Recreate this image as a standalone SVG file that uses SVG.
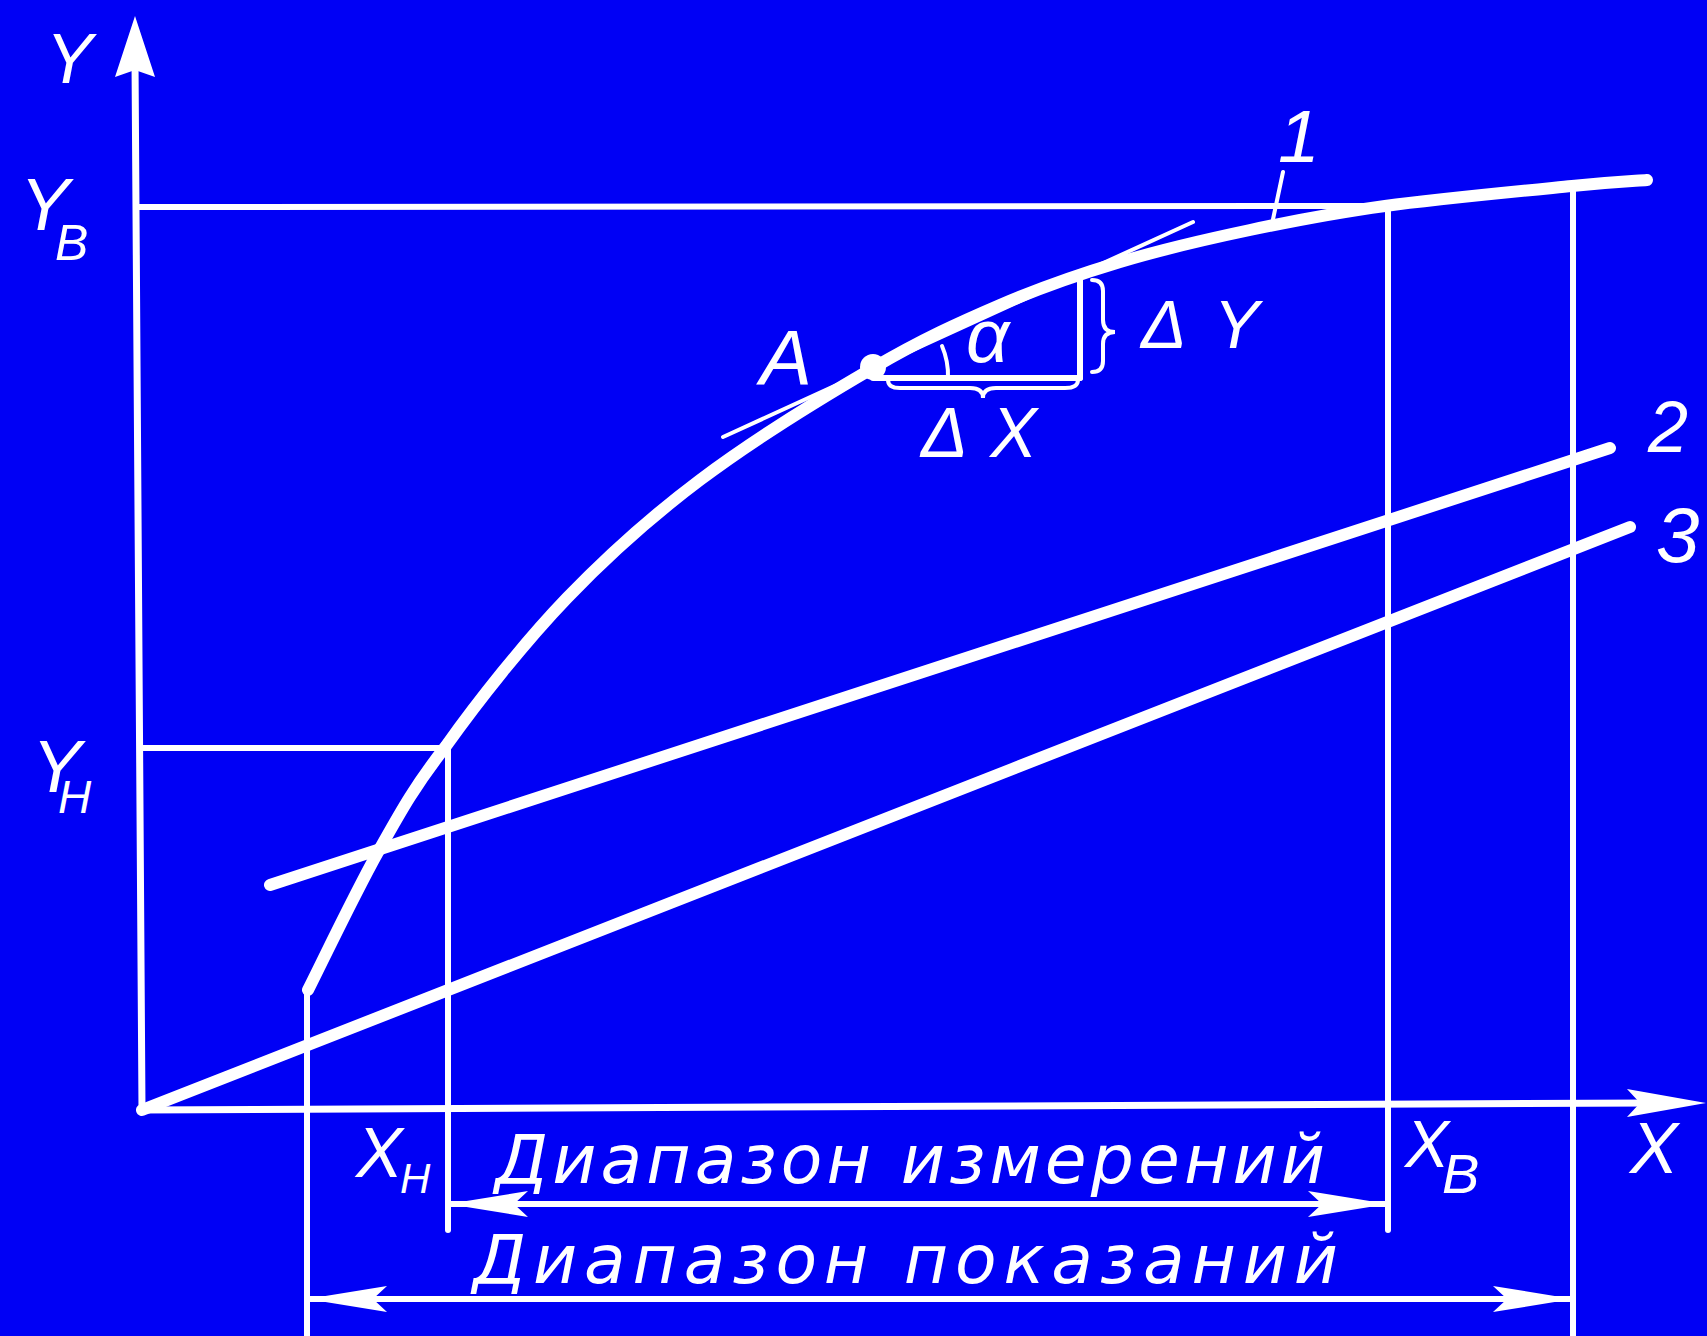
<svg xmlns="http://www.w3.org/2000/svg" width="1707" height="1336" viewBox="0 0 1707 1336">
<style>
.thin{stroke:#fff;stroke-width:6;fill:none;stroke-linecap:round}
.hair{stroke:#fff;stroke-width:4;fill:none;stroke-linecap:round}
.thick{stroke:#fff;stroke-width:12;fill:none;stroke-linecap:round;stroke-linejoin:round}
.lbl{fill:#fff;font-family:"Liberation Sans",Arial,sans-serif;font-style:italic}
.rng{fill:#fff;font-family:"DejaVu Sans","Liberation Sans",sans-serif;font-style:oblique}
</style>
<defs>
<marker id="ah" viewBox="0 0 80 28" refX="80" refY="14" markerWidth="80" markerHeight="28" markerUnits="userSpaceOnUse" orient="auto-start-reverse">
<path d="M0,1 L80,14 L0,27 L14,14 z" fill="#fff"/>
</marker>
</defs>
<rect width="1707" height="1336" fill="#0000F5"/>
<g id="axes">
<line class="thin" x1="135" y1="60" x2="142" y2="1110" style="stroke-width:7"/>
<polygon points="135,16 155,77 135,70 115,77" fill="#fff"/>
<line class="thin" x1="142" y1="1110" x2="1650" y2="1103" style="stroke-width:7"/>
<polygon points="1706,1103 1627,1089 1640,1103 1627,1117" fill="#fff"/>
</g>
<g id="guides">
<line class="thin" x1="138" y1="207" x2="1385" y2="206"/>
<line class="thin" x1="140" y1="748" x2="445" y2="748"/>
<line class="thin" x1="307" y1="993" x2="307" y2="1336"/>
<line class="thin" x1="448" y1="748" x2="448" y2="1230"/>
<line class="thin" x1="1388" y1="206" x2="1388" y2="1230"/>
<line class="thin" x1="1573" y1="186" x2="1573" y2="1336"/>
</g>
<g id="curves">
<path id="curve1" class="thick" d="M308,990 C319.7,967 355,893 378,852 C401,811 414.5,786.3 446,746 C477.5,701.7 524.7,642 567,598 C609.3,554 649,518.3 700,480 C751,441.7 823,397.2 873,368 C923,338.8 958.8,322.7 1000,305 C1041.2,287.3 1078.3,274.5 1120,262 C1161.7,249.5 1205.8,239.3 1250,230 C1294.2,220.7 1331.3,213.3 1385,206 C1438.7,198.7 1528.3,190.3 1572,186 C1615.7,181.7 1634.5,181 1647,180"/>
<line id="line2" class="thick" x1="270" y1="885" x2="1610" y2="448"/>
<line id="line3" class="thick" x1="142" y1="1110" x2="1630" y2="527"/>
</g>
<g id="tangent">
<line class="hair" x1="723" y1="437" x2="1193" y2="222"/>
<circle cx="873" cy="367" r="13" fill="#fff"/>
<line class="thin" x1="873" y1="378" x2="1080" y2="378"/>
<line class="thin" x1="1080" y1="378" x2="1080" y2="278"/>
<path class="hair" d="M948,378 A75,75 0 0,0 942,346"/>
<path class="hair" d="M888,380 Q888,388 900,388 L970,388 Q983,388 983,398 Q983,388 996,388 L1065,388 Q1078,388 1078,380"/>
<path class="hair" d="M1092,280 Q1103,280 1103,291 L1103,320 Q1103,332 1115,332 Q1103,332 1103,344 L1103,361 Q1103,372 1092,372"/>
<line class="hair" x1="1283" y1="172" x2="1272" y2="224"/>
</g>
<g id="ranges">
<line class="thin" x1="448" y1="1204" x2="1388" y2="1204" marker-start="url(#ah)" marker-end="url(#ah)"/>
<line class="thin" x1="307" y1="1299" x2="1573" y2="1299" marker-start="url(#ah)" marker-end="url(#ah)"/>
</g>
<g id="labels">
<text class="lbl" x="46" y="83" font-size="70">Y</text>
<text class="lbl" x="20" y="230" font-size="74">Y<tspan x="55" y="260" font-size="50">В</tspan></text>
<text class="lbl" x="32" y="792" font-size="74">Y<tspan x="58" y="813" font-size="46">Н</tspan></text>
<text class="lbl" x="356" y="1177" font-size="70">X<tspan x="400" y="1193" font-size="42">Н</tspan></text>
<text class="lbl" x="1405" y="1167" font-size="66">X<tspan x="1442" y="1193" font-size="56">В</tspan></text>
<text class="lbl" x="1630" y="1173" font-size="72">X</text>
<text class="lbl" x="760" y="385" font-size="78">A</text>
<text class="lbl" x="966" y="362" font-size="76">α</text>
<text class="lbl" x="921" y="457" font-size="70" textLength="116" lengthAdjust="spacing">ΔX</text>
<text class="lbl" x="1141" y="348" font-size="68" textLength="118" lengthAdjust="spacing">ΔY</text>
<text class="lbl" x="1278" y="162" font-size="75">1</text>
<text class="lbl" x="1648" y="452" font-size="72">2</text>
<text class="lbl" x="1656" y="562" font-size="78">3</text>
<text class="rng" x="495" y="1183" font-size="68" textLength="830" lengthAdjust="spacing">Диапазон измерений</text>
<text class="rng" x="473" y="1283" font-size="68" textLength="865" lengthAdjust="spacing">Диапазон показаний</text>
</g>
</svg>
